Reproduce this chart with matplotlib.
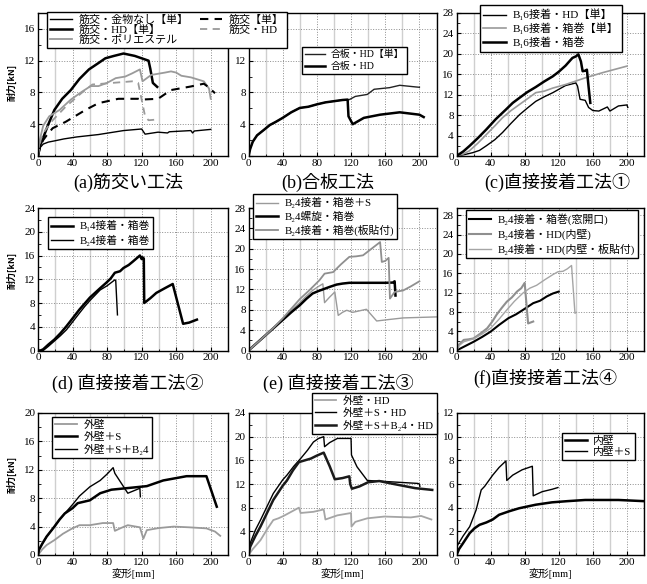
import math
import matplotlib
matplotlib.use("Agg")
import matplotlib.pyplot as plt
from matplotlib.ticker import MultipleLocator

plt.rcParams['font.family'] = ['Liberation Serif', 'Noto Sans CJK JP', 'DejaVu Serif']

# ---- (a) 筋交い工法 ----
a_none_x = [0, 2, 6, 12, 19, 30, 45, 70, 99, 120, 124, 139, 150, 152, 177, 179, 181, 200]
a_none_y = [0, 1.0, 1.5, 1.75, 1.9, 2.15, 2.4, 2.7, 3.2, 3.4, 2.75, 3.0, 2.9, 3.05, 3.2, 2.9, 3.15, 3.35]
a_hd_x = [0, 2, 6, 12, 19, 28, 38, 48, 59, 70, 78, 88, 99, 112, 128, 130, 133, 136, 138]
a_hd_y = [0, 1.2, 2.3, 4.0, 5.8, 7.2, 8.3, 9.7, 10.9, 11.7, 12.3, 12.6, 12.9, 12.6, 12.0, 11.0, 9.2, 8.9, 8.7]
a_poly_x = [0, 2, 6, 13, 25, 38, 51, 61, 70, 80, 90, 101, 109, 118, 121, 131, 147, 154, 160, 166, 177, 192, 198, 200]
a_poly_y = [0, 2.0, 3.8, 5.0, 5.8, 7.1, 8.1, 8.8, 8.8, 9.2, 9.8, 10.0, 10.4, 10.9, 9.4, 10.2, 10.5, 10.65, 10.5, 10.1, 9.9, 9.4, 8.5, 7.2]
a_single_x = [0, 3, 6, 10, 17, 32, 55, 70, 93, 116, 119, 139, 154, 177, 192, 197, 205]
a_single_y = [0, 1.3, 2.0, 2.6, 3.5, 4.3, 5.8, 6.65, 7.2, 7.2, 7.1, 7.2, 8.3, 8.75, 9.1, 8.7, 7.9]
a_hd2_x = [0, 3, 6, 17, 32, 50, 63, 86, 109, 116, 120, 124, 128, 139]
a_hd2_y = [0, 2.0, 2.9, 4.5, 6.2, 7.9, 9.0, 9.2, 9.4, 9.2, 7.1, 5.0, 4.5, 4.6]
a_labels = ['筋交・金物なし【単】', '筋交・HD【単】', '筋交・ポリエステル', '筋交【単】', '筋交・HD']

# ---- (b) 合板工法 ----
b_single_x = [0, 2, 5, 10, 17, 25, 32, 40, 50, 60, 70, 80, 90, 100, 110, 118, 125, 139, 147, 165, 177, 195, 200]
b_single_y = [0, 0.9, 1.8, 2.6, 3.2, 3.9, 4.3, 4.8, 5.5, 6.05, 6.2, 6.5, 6.75, 6.9, 7.05, 7.1, 7.5, 7.75, 8.4, 8.6, 8.9, 8.7, 8.65]
b_hd_x = [0, 2, 5, 10, 17, 25, 32, 40, 50, 60, 70, 80, 90, 100, 110, 116, 117, 122, 135, 154, 177, 200, 205]
b_hd_y = [0, 0.9, 1.8, 2.6, 3.2, 3.9, 4.3, 4.8, 5.5, 6.05, 6.2, 6.5, 6.75, 6.9, 7.05, 7.1, 5.0, 4.0, 4.8, 5.2, 5.5, 5.2, 4.9]
b_labels = ['合板・HD【単】', '合板・HD']

# ---- (c) 直接接着工法① ----
c_hd_x = [0, 10, 19, 27, 35, 45, 54, 64, 74, 84, 93, 103, 113, 128, 140, 142, 145, 151, 155, 160, 167, 177, 180, 190, 200, 201]
c_hd_y = [0, 0.3, 0.65, 1.1, 2.0, 3.2, 4.6, 6.4, 8.1, 9.5, 10.7, 11.6, 12.4, 13.8, 14.3, 13.7, 11.1, 10.9, 9.5, 8.9, 8.8, 9.6, 8.8, 9.8, 10.0, 9.5]
c_box1_x = [0, 8, 15, 25, 35, 45, 54, 64, 74, 84, 93, 103, 113, 128, 151, 171, 200]
c_box1_y = [0, 0.4, 1.0, 2.5, 4.2, 5.9, 7.5, 8.9, 10.1, 11.3, 12.4, 12.7, 13.3, 14.0, 15.3, 16.3, 17.6]
c_box_x = [0, 8, 15.5, 25, 35, 46, 58, 66, 74, 83, 93, 103, 113, 120, 128, 136, 140, 143, 146, 148, 151, 153, 155, 157]
c_box_y = [0, 0.9, 2.0, 3.5, 5.2, 7.2, 9.1, 10.4, 11.4, 12.5, 13.5, 14.6, 15.6, 16.5, 17.7, 19.2, 19.5, 19.9, 18.5, 16.6, 16.7, 16.9, 13.5, 10.4]
c_labels = ['B₁6接着・HD【単】', 'B₁6接着・箱巻【単】', 'B₁6接着・箱巻']

# ---- (d) 直接接着工法② ----
d_b1_x = [0, 3, 6, 12, 19, 26, 33, 40, 48, 54, 60, 66, 72, 79, 84, 89, 95, 99, 105, 110, 118, 120, 121, 122.5, 123, 130, 137, 147, 156, 168, 175, 184]
d_b1_y = [0, 0, 0.2, 1.0, 1.85, 2.9, 4.1, 5.4, 6.9, 7.9, 8.9, 9.7, 10.5, 11.4, 12.1, 13.1, 13.35, 13.9, 14.4, 15.0, 16.0, 15.4, 15.7, 15.5, 8.0, 8.8, 9.7, 10.5, 11.2, 4.5, 4.7, 5.2]
d_b2_x = [0, 6, 12, 19, 26, 33, 40, 48, 54, 60, 66, 72, 80, 89, 90, 92]
d_b2_y = [0, 0, 0.7, 1.6, 2.5, 3.5, 4.8, 6.3, 7.4, 8.4, 9.3, 10.2, 10.9, 11.9, 11.8, 6.0]
d_labels = ['B₁4接着・箱巻', 'B₂4接着・箱巻']

# ---- (e) 直接接着工法③ ----
e_s_x = [0, 10, 20, 30, 40, 50, 60, 67, 75, 82, 87, 89, 95, 101, 105, 110, 115, 122, 130, 138, 150, 165, 181, 200, 220]
e_s_y = [0, 1.4, 3.0, 4.6, 6.3, 7.9, 9.4, 10.6, 11.8, 12.6, 13.1, 9.4, 10.5, 11.5, 6.9, 7.5, 7.9, 7.5, 7.8, 8.1, 5.8, 6.1, 6.4, 6.5, 6.6]
e_screw_x = [0, 10, 20, 30, 40, 50, 60, 68, 75, 82, 87, 95, 103, 110, 118, 140, 160, 169, 171, 172]
e_screw_y = [0, 1.5, 3.0, 4.5, 6.0, 7.5, 8.9, 10.2, 11.2, 11.7, 12.0, 12.5, 12.95, 13.15, 13.3, 13.3, 13.3, 13.35, 13.6, 10.8]
e_plate_x = [0, 10, 20, 30, 40, 50, 60, 71, 83, 89, 99, 108, 118, 126, 134, 144, 154, 156, 160, 164, 165.5, 171, 181, 190, 200]
e_plate_y = [0, 1.5, 3.0, 4.6, 6.3, 8.2, 10.1, 11.8, 13.8, 15.1, 15.4, 16.9, 18.4, 18.5, 18.7, 20.0, 21.3, 17.4, 17.6, 18.2, 10.2, 11.5, 11.8, 12.6, 13.6]
e_labels = ['B₂4接着・箱巻＋S', 'B₂4螺旋・箱巻', 'B₂4接着・箱巻(板貼付)']

# ---- (f) 直接接着工法④ ----
f_win_x = [0, 10, 20, 30, 40, 50, 61, 70, 78, 90, 98, 106, 113, 120]
f_win_y = [0, 0.9, 1.8, 2.8, 3.9, 5.3, 6.7, 7.5, 8.4, 9.8, 10.3, 11.2, 11.8, 12.2]
f_hd_x = [0, 3, 8.5, 14, 20, 28, 36, 42, 47, 53, 59, 65, 71, 76, 80, 84, 90]
f_hd_y = [0, 1.2, 2.2, 2.3, 2.5, 3.5, 4.6, 6.0, 7.4, 8.8, 10.1, 11.0, 12.2, 12.9, 14.0, 5.6, 6.0]
f_plate_x = [0, 3, 8.5, 14, 20, 30, 40, 50, 59, 68, 78, 86, 94, 104, 113, 119, 125, 130, 135, 139, 140.6]
f_plate_y = [0, 1.0, 1.8, 2.1, 2.4, 3.4, 4.6, 6.5, 8.4, 10.2, 11.9, 12.9, 13.5, 14.7, 15.7, 16.3, 16.4, 16.9, 17.6, 7.7, 7.9]
f_labels = ['B₂4接着・箱巻(窓開口)', 'B₂4接着・HD(内壁)', 'B₂4接着・HD(内壁・板貼付)']

# ---- (g) 外壁 ----
g_ext_x = [0, 5, 10, 19, 29, 39, 48, 60, 75, 87, 89, 96, 104, 118, 122, 126, 140, 157, 175, 195, 205, 211]
g_ext_y = [0, 0.8, 1.4, 2.1, 3.0, 3.7, 4.2, 4.2, 4.5, 4.5, 3.4, 3.8, 4.2, 3.9, 2.3, 3.5, 3.8, 4.0, 3.9, 3.75, 3.3, 2.7]
g_s_x = [0, 1, 5, 10, 19, 25, 31, 40, 46, 53, 60, 66, 72, 85, 110, 126, 145, 172, 195, 207]
g_s_y = [0, 0.7, 1.6, 2.6, 4.0, 5.0, 5.85, 6.6, 7.3, 7.5, 7.7, 8.2, 8.7, 9.2, 9.5, 9.7, 10.5, 11.1, 11.1, 6.8]
g_sb_x = [0, 1, 5, 10, 19, 25, 31, 40, 48, 60, 72, 80, 87, 89, 104, 110, 118, 118.5]
g_sb_y = [0, 0.7, 1.6, 2.6, 4.0, 5.0, 5.85, 7.1, 8.3, 9.6, 10.5, 11.4, 12.3, 11.5, 8.7, 9.0, 9.4, 8.2]
g_labels = ['外壁', '外壁＋S', '外壁＋S＋B₂4']

# ---- (h) 外壁・HD ----
h_hd_x = [0, 5, 14, 22, 29, 35, 41, 50, 59, 61, 76, 88, 90, 104, 120, 120.5, 125, 139, 159, 190, 202, 214]
h_hd_y = [0, 1.0, 2.5, 4.4, 5.9, 6.2, 6.6, 7.3, 8.0, 7.1, 7.3, 7.7, 6.0, 6.7, 7.1, 4.8, 5.6, 6.2, 6.5, 6.35, 6.6, 6.0]
h_shd_x = [0, 2, 8, 14, 22, 29, 40, 45, 53, 61, 69, 76, 82, 88, 89, 95, 104, 120, 120.5, 127, 139, 163, 198, 200, 200.5]
h_shd_y = [0, 2.0, 4.2, 5.9, 8.3, 10.4, 12.7, 13.5, 15.0, 16.3, 17.7, 19.1, 19.7, 20.0, 18.3, 19.0, 19.7, 19.7, 16.9, 14.9, 12.6, 12.4, 12.1, 12.0, 11.6]
h_sbhd_x = [0, 2, 8, 14, 22, 29, 40, 45, 52, 59, 66, 73, 80, 88, 95, 101, 110, 118, 119, 121, 130, 140, 153, 170, 195, 215]
h_sbhd_y = [0, 1.4, 3.2, 4.8, 7.2, 9.3, 11.7, 12.6, 14.3, 15.7, 16.0, 16.3, 16.8, 17.3, 15.0, 12.8, 13.0, 13.3, 12.0, 11.2, 11.6, 12.3, 12.5, 12.0, 11.3, 11.0]
h_labels = ['外壁・HD', '外壁＋S・HD', '外壁＋S＋B₂4・HD']

# ---- (i) 内壁 ----
i_in_x = [0, 3, 7.7, 15.5, 21, 27, 35, 42.5, 50, 62, 73.5, 93, 112, 130, 151, 190, 220]
i_in_y = [0, 0.5, 1.0, 1.85, 2.25, 2.55, 2.75, 3.0, 3.4, 3.7, 3.95, 4.25, 4.45, 4.55, 4.65, 4.65, 4.55]
i_s_x = [0, 1, 7.7, 15.5, 23, 29, 33, 42.5, 50, 58, 59, 66, 77, 89, 90, 100.5, 112, 119]
i_s_y = [0, 0.8, 1.6, 2.4, 3.8, 5.5, 5.8, 6.75, 7.4, 7.95, 6.3, 6.75, 7.2, 7.5, 5.0, 5.35, 5.55, 5.7]
i_labels = ['内壁', '内壁＋S']

captions = ['(a)筋交い工法', '(b)合板工法', '(c)直接接着工法①',
            '(d) 直接接着工法②', '(e) 直接接着工法③', '(f)直接接着工法④']

W, H = 647, 584
fig = plt.figure(figsize=(W / 100, H / 100), dpi=100)
renderer = fig.canvas.get_renderer()

cols = [(38, 190), (248.5, 188), (456.5, 187.5)]
rows = [(13, 143), (208, 142.5), (413, 142)]


def make_axes(r, c, ymax, ystep):
    left, width = cols[c]
    top, height = rows[r]
    ax = fig.add_axes([left / W, 1 - (top + height) / H, width / W, height / H])
    ax.set_xlim(0, 220)
    ax.set_ylim(0, ymax)
    ax.xaxis.set_major_locator(MultipleLocator(40))
    ax.xaxis.set_minor_locator(MultipleLocator(20))
    ax.yaxis.set_major_locator(MultipleLocator(ystep))
    ax.yaxis.set_minor_locator(MultipleLocator(ystep / 2))
    ax.grid(True, which='major', linestyle=':', color='#8c8c8c', linewidth=0.7)
    ax.grid(True, which='minor', axis='x', linestyle='-', color='#cfcfcf', linewidth=1.0)
    ax.set_axisbelow(True)
    ax.tick_params(which='both', direction='in', labelsize=8, pad=2)
    ax.tick_params(which='major', length=3)
    ax.tick_params(which='minor', length=1.8)
    for s in ax.spines.values():
        s.set_linewidth(1.0)
    return ax


def add_legend(handles, labels, x, y, box_w, box_h, ncol=1, **kw):
    # size the legend so its frame spans box_w x box_h pixels
    nrows = math.ceil(len(labels) / ncol)
    fs, spacing = 7.5, 0.15
    leg = None
    for _ in range(5):
        if leg is not None:
            leg.remove()
        leg = fig.legend(handles, labels, loc='upper left', ncol=ncol,
                         bbox_to_anchor=(x / W, 1 - y / H),
                         fontsize=fs, frameon=True, fancybox=False, framealpha=1,
                         edgecolor='black', borderpad=0.3, labelspacing=spacing,
                         handlelength=2.0, handletextpad=0.6, borderaxespad=0, **kw)
        bb = leg.get_window_extent(renderer)
        fs *= box_w / bb.width
        if nrows > 1:
            spacing = max(0.0, spacing + (box_h - bb.height) / ((nrows - 1) * fs * 100 / 72))
    leg.get_frame().set_linewidth(1.0)
    return leg


# (a)
ax = make_axes(0, 0, 18, 4)
h1, = ax.plot(a_none_x, a_none_y, color='black', lw=1.0)
h2, = ax.plot(a_hd_x, a_hd_y, color='black', lw=1.8)
h3, = ax.plot(a_poly_x, a_poly_y, color='#9a9a9a', lw=1.3)
h4, = ax.plot(a_single_x, a_single_y, color='black', lw=1.5, ls=(0, (4, 3)))
h5, = ax.plot(a_hd2_x, a_hd2_y, color='#9a9a9a', lw=1.3, ls=(0, (4, 3)))
add_legend([h1, h2, h3, h4, h5], a_labels, 47, 11.5, 240, 37, ncol=2, columnspacing=1.0)

# (b)
ax = make_axes(0, 1, 18, 4)
ax.set_yticks([0, 4, 8, 12, 16], ['0', '4', '8', '12', ''])
h1, = ax.plot(b_single_x, b_single_y, color='#222222', lw=1.0)
h2, = ax.plot(b_hd_x, b_hd_y, color='black', lw=1.8)
add_legend([h1, h2], b_labels, 302, 47, 105, 27)

# (c)
ax = make_axes(0, 2, 28, 4)
h1, = ax.plot(c_hd_x, c_hd_y, color='black', lw=1.0)
h2, = ax.plot(c_box1_x, c_box1_y, color='#9a9a9a', lw=1.2)
h3, = ax.plot(c_box_x, c_box_y, color='black', lw=1.8)
add_legend([h1, h2, h3], c_labels, 480, 5.5, 142, 46)

# (d)
ax = make_axes(1, 0, 24, 4)
h1, = ax.plot(d_b1_x, d_b1_y, color='black', lw=1.8)
h2, = ax.plot(d_b2_x, d_b2_y, color='black', lw=1.0)
add_legend([h1, h2], d_labels, 48, 217, 105, 32)

# (e)
ax = make_axes(1, 1, 28, 4)
h1, = ax.plot(e_s_x, e_s_y, color='#9a9a9a', lw=1.0)
h2, = ax.plot(e_screw_x, e_screw_y, color='black', lw=1.8)
h3, = ax.plot(e_plate_x, e_plate_y, color='#8f8f8f', lw=1.3)
add_legend([h1, h2, h3], e_labels, 253, 194, 145, 45)

# (f)
ax = make_axes(1, 2, 29.5, 4)
h1, = ax.plot(f_win_x, f_win_y, color='black', lw=1.5)
h2, = ax.plot(f_hd_x, f_hd_y, color='#8f8f8f', lw=1.5)
h3, = ax.plot(f_plate_x, f_plate_y, color='#a5a5a5', lw=1.0)
add_legend([h1, h2, h3], f_labels, 466, 210, 172, 48)

# (g)
ax = make_axes(2, 0, 20, 4)
h1, = ax.plot(g_ext_x, g_ext_y, color='#9a9a9a', lw=1.3)
h2, = ax.plot(g_s_x, g_s_y, color='black', lw=1.8)
h3, = ax.plot(g_sb_x, g_sb_y, color='black', lw=1.0)
ax.set_xlabel('変形[mm]', fontsize=7.5, labelpad=1)
add_legend([h1, h2, h3], g_labels, 52, 417, 100, 41)

# (h)
ax = make_axes(2, 1, 24, 4)
h1, = ax.plot(h_hd_x, h_hd_y, color='#a5a5a5', lw=1.3)
h2, = ax.plot(h_shd_x, h_shd_y, color='black', lw=1.0)
h3, = ax.plot(h_sbhd_x, h_sbhd_y, color='#1a1a1a', lw=1.8)
ax.set_xlabel('変形[mm]', fontsize=7.5, labelpad=1)
add_legend([h1, h2, h3], h_labels, 312, 393, 125, 41)

# (i)
ax = make_axes(2, 2, 12, 2)
h1, = ax.plot(i_in_x, i_in_y, color='black', lw=1.8)
h2, = ax.plot(i_s_x, i_s_y, color='black', lw=1.0)
ax.set_xlabel('変形[mm]', fontsize=7.5, labelpad=1)
add_legend([h1, h2], i_labels, 562, 433, 73, 27)

# panel captions
cap_pos = [(128, 182), (328, 182), (557, 182), (128, 383), (338, 383), (545, 378)]
for text, (cx, cy) in zip(captions, cap_pos):
    fig.text(cx / W, 1 - cy / H, text, fontsize=13, ha='center', va='center')

# y-axis labels on the left column
for cy in [82, 270, 474]:
    fig.text(12 / W, 1 - cy / H, '耐力[kN]', rotation=90, fontsize=6.5,
             fontweight='bold', family=['Noto Sans CJK JP'],
             ha='center', va='center')

fig.savefig('out.png', dpi=100)
